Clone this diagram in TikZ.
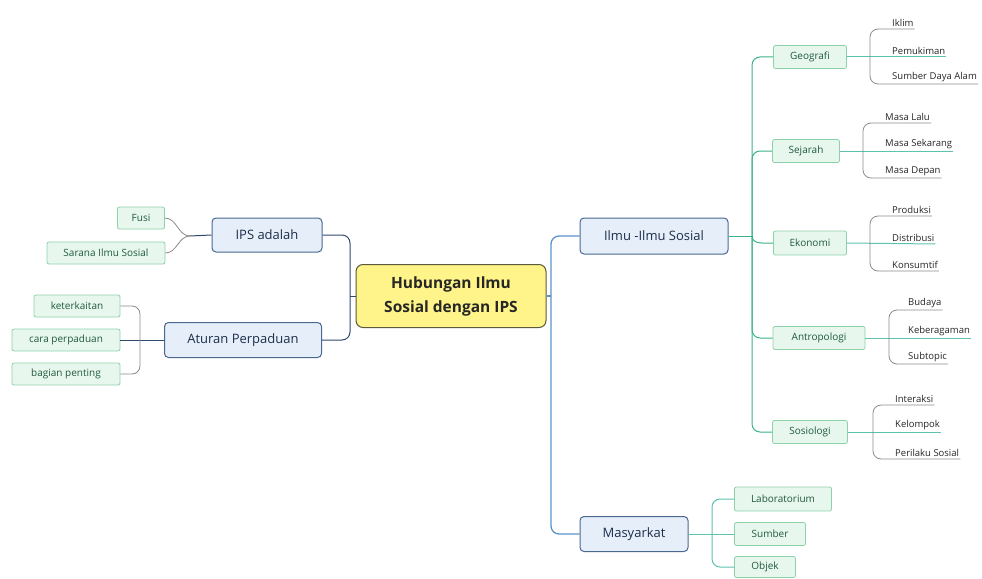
\documentclass[tikz,border=0pt]{standalone}
\usepackage{fontspec}
\setmainfont{Open Sans}
\usetikzlibrary{positioning}
\definecolor{topicfill}{HTML}{E6EEF9}
\definecolor{topicline}{HTML}{4A6890}
\definecolor{topictext}{HTML}{1C2E4C}
\definecolor{centerfill}{HTML}{FFF48A}
\definecolor{centerline}{HTML}{5A5A3A}
\definecolor{leaffill}{HTML}{E8F7EE}
\definecolor{leafline}{HTML}{8CD2A8}
\definecolor{leaftext}{HTML}{1F5A3C}
\definecolor{navyline}{HTML}{2E4A6C}
\definecolor{blueline}{HTML}{5A92CC}
\definecolor{greenline}{HTML}{3CB386}
\definecolor{tealline}{HTML}{5EC2B0}
\definecolor{grayline}{HTML}{8A8A8A}
\tikzset {
  map node/.style = {
    draw,
    rounded corners = 4pt,
    inner sep = 0pt,
    align = center
  },
  % central topic
  hub/.style = {
    map node,
    draw = centerline,
    fill = centerfill,
    line width = 1pt,
    rounded corners = 7pt,
    font = \fontsize{15.5}{24}\selectfont\bfseries,
    text = black!85
  },
  % main topic
  topic/.style = {
    map node,
    draw = topicline,
    fill = topicfill,
    line width = 1pt,
    font = \fontsize{13}{15}\selectfont,
    text = topictext
  },
  % subtopic in a box
  leafbox/.style = {
    map node,
    draw = leafline,
    fill = leaffill,
    line width = .8pt,
    rounded corners = 2pt,
    font = \fontsize{10}{12}\selectfont,
    text = leaftext
  },
  % subtopic on a line
  leaf/.style = {
    anchor = south west,
    inner xsep = 1pt,
    inner ysep = 2pt,
    font = \fontsize{9.5}{11}\selectfont,
    text = black!85
  }
}
\tikzset {
  link/.style = {
    line width = 1pt,
    rounded corners = 8pt
  },
  navy link/.style = {link, draw = navyline},
  blue link/.style = {link, draw = blueline, line width = 1.3pt},
  green link/.style = {link, draw = greenline},
  teal link/.style = {link, draw = tealline},
  gray link/.style = {link, draw = grayline, line width = .8pt}
}

\begin{document}
\begin{tikzpicture}[x=1pt, y=-1pt]
    \useasboundingbox (0,0) rectangle (982,578);

    % centre and main topics
    \node[hub, minimum width=190, minimum height=63] (hub) at (451,296) {Hubungan Ilmu\\Sosial dengan IPS};
    \node[topic, minimum width=110, minimum height=34] (ips) at (267,235) {IPS adalah};
    \node[topic, minimum width=157, minimum height=35] (atur) at (243,340) {Aturan Perpaduan};
    \node[topic, minimum width=148, minimum height=36] (ilmu) at (654,236) {Ilmu -Ilmu Sosial};
    \node[topic, minimum width=108, minimum height=35] (masy) at (634,534) {Masyarkat};

    \coordinate (hub-left) at (350,296);
    \coordinate (hub-right) at (551,296);
    \draw[navy link] (hub.west) -- (hub-left);
    \draw[navy link] (ips.east) -| (hub-left) |- (atur.east);
    \draw[blue link] (hub.east) -- (hub-right);
    \draw[blue link] (ilmu.west) -| (hub-right) |- (masy.west);

    % left side
    \node[leafbox, minimum width=47, minimum height=22] (fusi) at (141,218) {Fusi};
    \node[leafbox, minimum width=118, minimum height=22] (sarana) at (106,253) {Sarana Ilmu Sosial};
    \coordinate (ips-left) at (190,236);
    \draw[navy link] (ips.west) -- (ips-left);
    \draw[gray link] (ips-left) to[out=180, in=0] (fusi.east);
    \draw[gray link] (ips-left) to[out=180, in=0] (sarana.east);

    \node[leafbox, minimum width=86, minimum height=22] (kait) at (77,306) {keterkaitan};
    \node[leafbox, minimum width=108, minimum height=22] (cara) at (66,340) {cara perpaduan};
    \node[leafbox, minimum width=108, minimum height=22] (bagian) at (66,374) {bagian penting};
    \coordinate (atur-left) at (140,340);
    \draw[navy link] (atur.west) -- (cara.east);
    \draw[gray link] (kait.east) -| (atur-left) |- (bagian.east);

    % right side: ilmu-ilmu sosial
    \node[leafbox, minimum width=73, minimum height=23] (geo) at (810,57) {Geografi};
    \node[leafbox, minimum width=67, minimum height=23] (sej) at (806,151) {Sejarah};
    \node[leafbox, minimum width=73, minimum height=24] (eko) at (810,243) {Ekonomi};
    \node[leafbox, minimum width=92, minimum height=23] (antro) at (819,338) {Antropologi};
    \node[leafbox, minimum width=75, minimum height=23] (sosio) at (810,432) {Sosiologi};

    \coordinate (ilmu-right) at (752,236);
    \draw[green link] (ilmu.east) -- (ilmu-right);
    \draw[green link] (geo.west) -| (ilmu-right) |- (sosio.west);
    \draw[green link] (ilmu-right) |- (sej.west);
    \draw[green link] (ilmu-right) to[out=-90, in=180] (eko.west);
    \draw[green link] (ilmu-right) |- (antro.west);

    \node[leaf] (iklim) at (891,29) {Iklim};
    \node[leaf] (mukim) at (891,57) {Pemukiman};
    \node[leaf] (sda) at (891,84) {Sumber Daya Alam};
    \coordinate (geo-right) at (870,57);
    \draw[teal link] (geo.east) -- (mukim.south east);
    \draw[gray link] (iklim.south east) -| (geo-right) |- (sda.south east);

    \node[leaf] (lalu) at (884,123) {Masa Lalu};
    \node[leaf] (kini) at (884,151) {Masa Sekarang};
    \node[leaf] (depan) at (884,178) {Masa Depan};
    \coordinate (sej-right) at (863,151);
    \draw[teal link] (sej.east) -- (kini.south east);
    \draw[gray link] (lalu.south east) -| (sej-right) |- (depan.south east);

    \node[leaf] (prod) at (891,216) {Produksi};
    \node[leaf] (dist) at (891,244) {Distribusi};
    \node[leaf] (kons) at (891,271) {Konsumtif};
    \coordinate (eko-right) at (870,244);
    \draw[teal link] (eko.east) -- (dist.south east);
    \draw[gray link] (prod.south east) -| (eko-right) |- (kons.south east);

    \node[leaf] (budaya) at (907,310) {Budaya};
    \node[leaf] (ragam) at (907,338) {Keberagaman};
    \node[leaf] (subtopic) at (907,364) {Subtopic};
    \coordinate (antro-right) at (889,338);
    \draw[teal link] (antro.east) -- (ragam.south east);
    \draw[gray link] (budaya.south east) -| (antro-right) |- (subtopic.south east);

    \node[leaf] (inter) at (894,405) {Interaksi};
    \node[leaf] (kelompok) at (894,432) {Kelompok};
    \node[leaf] (perilaku) at (894,459) {Perilaku Sosial};
    \coordinate (sosio-right) at (873,432);
    \draw[teal link] (sosio.east) -- (kelompok.south east);
    \draw[gray link] (inter.south east) -| (sosio-right) |- (perilaku.south east);

    % right side: masyarkat
    \node[leafbox, minimum width=97, minimum height=24] (lab) at (783,499) {Laboratorium};
    \node[leafbox, minimum width=71, minimum height=23] (sumber) at (770,534) {Sumber};
    \node[leafbox, minimum width=61, minimum height=21] (objek) at (765,567) {Objek};
    \coordinate (masy-right) at (712,534);
    \draw[teal link] (masy.east) -- (sumber.west);
    \draw[teal link] (lab.west) -| (masy-right) |- (objek.west);
\end{tikzpicture}
\end{document}
